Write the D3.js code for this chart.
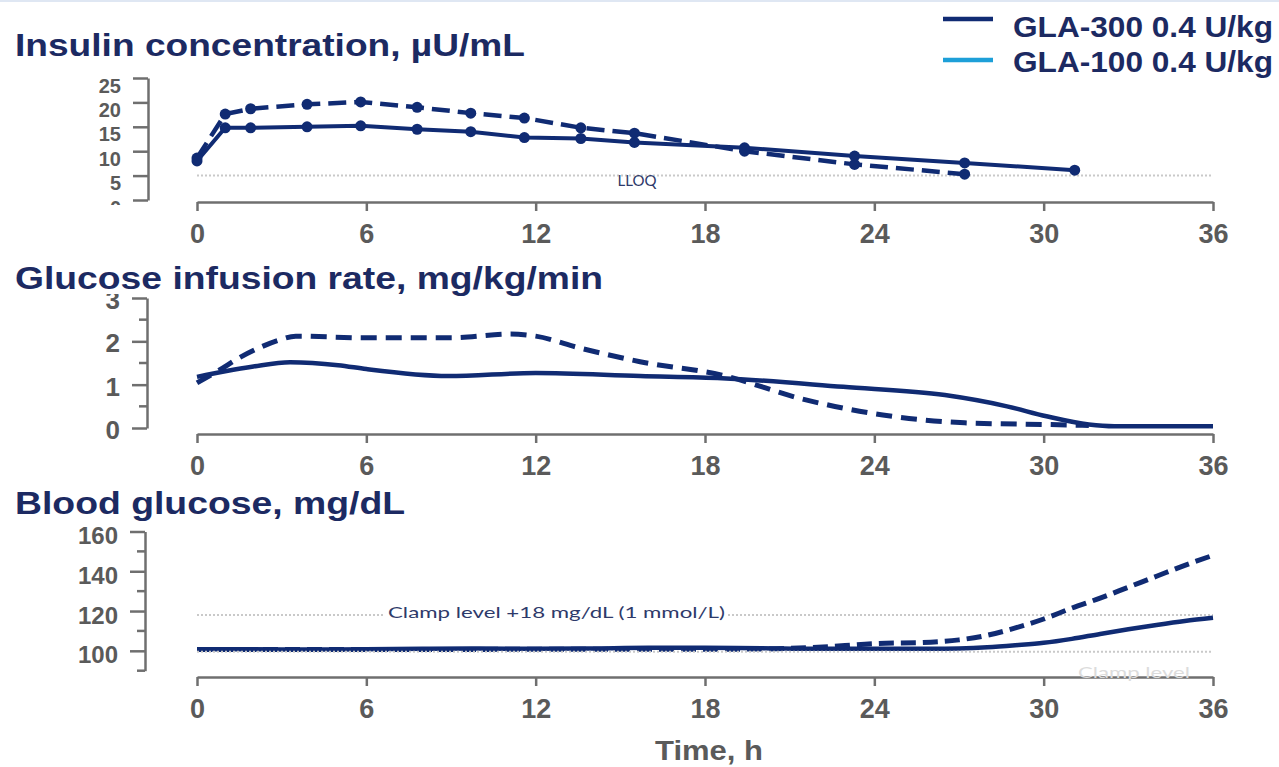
<!DOCTYPE html>
<html>
<head>
<meta charset="utf-8">
<script src="https://cdn.jsdelivr.net/npm/d3@7"></script>
<style>
  html, body { margin: 0; padding: 0; background: #ffffff; }
  svg { display: block; }
</style>
</head>
<body>
<svg id="chart" width="1279" height="767"></svg>
<script>
// ---- Data ----
const hourTicks = [0, 6, 12, 18, 24, 30, 36];

// Insulin concentration (µU/mL), sampled profile
const insulinTime300 = [0, 1, 1.9, 3.9, 5.8, 7.8, 9.7, 11.6, 13.6, 15.5, 19.4, 23.3, 27.2, 31.1];
const insulin300     = [8.0, 14.8, 14.8, 15.0, 15.2, 14.5, 14.0, 12.8, 12.6, 11.8, 10.7, 9.0, 7.6, 6.1];
const insulinTime100 = [0, 1, 1.9, 3.9, 5.8, 7.8, 9.7, 11.6, 13.6, 15.5, 19.4, 23.3, 27.2];
const insulin100     = [8.6, 17.6, 18.7, 19.6, 20.1, 19.0, 17.8, 16.8, 14.8, 13.7, 10.0, 7.3, 5.3];
const insulinTicks = [0, 5, 10, 15, 20, 25];
const lloq = 5;

// Glucose infusion rate (mg/kg/min), smoothed profile
const girTime300 = [0, 1, 2, 3.3, 5, 6, 8.9, 12, 15.7, 18.6, 22.9, 26.5, 28.7, 30.1, 31.6, 32.5, 34, 36];
const gir300     = [1.18, 1.31, 1.42, 1.52, 1.45, 1.36, 1.2, 1.27, 1.2, 1.15, 0.95, 0.76, 0.5, 0.27, 0.08, 0.04, 0.04, 0.04];
const girTime100 = [0, 0.8, 1.5, 2.2, 2.9, 3.5, 6, 9, 11.1, 12, 13.6, 15.7, 18.6, 21.5, 24.3, 27.2, 30.1, 31.6];
const gir100     = [1.04, 1.34, 1.62, 1.85, 2.03, 2.12, 2.08, 2.08, 2.17, 2.12, 1.84, 1.53, 1.22, 0.66, 0.3, 0.12, 0.08, 0.06];
const girTicks = [0, 1, 2, 3];
const girMinor = [0.5, 1.5, 2.5];

// Blood glucose (mg/dL)
const bgTime = [0, 2, 4, 6, 8, 10, 12, 14, 16, 18, 20, 22, 24, 26, 27, 28, 29, 30, 31, 32, 33, 34, 35, 36];
const bg300  = [100.8, 100.8, 100.6, 100.8, 101, 101.2, 101, 101.2, 101.5, 101.5, 101.3, 101, 101, 101, 101.2, 101.8, 102.8, 104, 106, 108.5, 110.8, 113, 115, 116.6];
const bg100  = [100.6, 100.6, 100.6, 100.6, 100.7, 100.7, 100.8, 100.8, 100.8, 100.8, 100.9, 101.8, 103.6, 104.3, 105.5, 107.8, 111.5, 116, 121.5, 126.5, 132, 137.5, 143, 148];
const bgTicks = [100, 120, 140, 160];
const bgMinor = [90, 110, 130, 150];
const clampLevel = 100;
const clampPlus = 118;

const seriesNames = ["GLA-300 0.4 U/kg", "GLA-100 0.4 U/kg"];

// ---- Styles ----
const NAVY = "#102b73";
const TITLE = "#1c2a62";
const GREY = "#5a5a5a";
const AXIS = "#6f6f6f";
const DOT = "#c9c9c9";
const intFmt = d3.format("d");

const svg = d3.select("#chart");
const x = d3.scaleLinear().domain([0, 36]).range([197, 1213]);

svg.append("rect").attr("x", 0).attr("y", 0).attr("width", 1279).attr("height", 2).attr("fill", "#dfe7f3");

// panel titles
function title(text, yBase, len) {
  svg.append("text")
    .attr("x", 15).attr("y", yBase)
    .attr("font-family", "Liberation Sans, Arial, sans-serif")
    .attr("font-weight", "bold").attr("font-size", 32)
    .attr("fill", TITLE)
    .attr("textLength", len).attr("lengthAdjust", "spacingAndGlyphs")
    .text(text);
}

function xAxis(yPos) {
  const g = svg.append("g").attr("transform", `translate(0,${yPos})`)
    .call(d3.axisBottom(x).tickValues(hourTicks).tickFormat(intFmt)
      .tickSize(9).tickSizeOuter(0).tickPadding(13));
  g.select(".domain").attr("stroke", AXIS).attr("stroke-width", 2.5);
  g.selectAll(".tick line").attr("stroke", AXIS).attr("stroke-width", 2.5);
  g.selectAll(".tick text")
    .attr("font-family", "Liberation Sans, Arial, sans-serif")
    .attr("font-weight", "bold").attr("font-size", 27)
    .attr("fill", GREY).attr("dy", "0.71em");
  return g;
}

// left axis; the optional clip is in the axis group's own coordinates (absolute y)
function yAxis(scale, xPos, ticks, minor, fontSize, dy, clip) {
  const g = svg.append("g").attr("transform", `translate(${xPos},0)`);
  const ax = g.append("g")
    .call(d3.axisLeft(scale).tickValues(ticks).tickFormat(intFmt)
      .tickSize(15).tickSizeOuter(0).tickPadding(12));
  ax.select(".domain").attr("stroke", AXIS).attr("stroke-width", 2.5);
  ax.selectAll(".tick line").attr("stroke", AXIS).attr("stroke-width", 2.5);
  ax.selectAll(".tick text")
    .attr("font-family", "Liberation Sans, Arial, sans-serif")
    .attr("font-weight", "bold").attr("font-size", fontSize)
    .attr("fill", GREY).attr("dy", dy);
  if (clip) {
    const id = "clip" + xPos + "_" + clip[0];
    svg.select("defs").append("clipPath").attr("id", id)
      .attr("clipPathUnits", "userSpaceOnUse")
      .append("rect").attr("x", -200).attr("y", clip[0]).attr("width", 260).attr("height", clip[1] - clip[0]);
    ax.attr("clip-path", `url(#${id})`);
  }
  if (minor) {
    g.selectAll(".minor").data(minor).join("line")
      .attr("x1", -8).attr("x2", 0)
      .attr("y1", d => scale(d)).attr("y2", d => scale(d))
      .attr("stroke", AXIS).attr("stroke-width", 2.5);
  }
  return g;
}

function dotted(yPos, segments) {
  segments.forEach(([a, b]) => {
    svg.append("line").attr("x1", a).attr("x2", b).attr("y1", yPos).attr("y2", yPos)
      .attr("stroke", DOT).attr("stroke-width", 2).attr("stroke-dasharray", "2,2");
  });
}

svg.append("defs");

// ===== Panel 1: insulin =====
const yIns = d3.scaleLinear().domain([0, 25]).range([200, 78]);
title("Insulin concentration, µU/mL", 56, 510);
yAxis(yIns, 148, insulinTicks, null, 20, "0.7em", [60, 205]);
xAxis(202);
dotted(yIns(lloq), [[x(0), x(36)]]);
svg.append("text").attr("x", 637).attr("y", 186).attr("text-anchor", "middle")
  .attr("font-family", "Lato, Open Sans, sans-serif").attr("font-size", 15)
  .attr("fill", "#2e3a6a").text("LLOQ");

const insLine = d3.line().x(d => x(d[0])).y(d => yIns(d[1]));
const ins300 = insulinTime300.map((t, i) => [t, insulin300[i]]);
const ins100 = insulinTime100.map((t, i) => [t, insulin100[i]]);
svg.append("path").datum(ins100).attr("d", insLine).attr("fill", "none")
  .attr("stroke", NAVY).attr("stroke-width", 4.5).attr("stroke-dasharray", "18,8");
svg.append("path").datum(ins300).attr("d", insLine).attr("fill", "none")
  .attr("stroke", NAVY).attr("stroke-width", 4);
svg.selectAll(".d100").data(ins100).join("circle")
  .attr("cx", d => x(d[0])).attr("cy", d => yIns(d[1])).attr("r", 5.5).attr("fill", NAVY);
svg.selectAll(".d300").data(ins300).join("circle")
  .attr("cx", d => x(d[0])).attr("cy", d => yIns(d[1])).attr("r", 5.5).attr("fill", NAVY);

// ===== Panel 2: glucose infusion rate =====
const yGir = d3.scaleLinear().domain([0, 3]).range([428, 298]);
yAxis(yGir, 147, girTicks, girMinor, 26, "0.4em", [294, 460]);
xAxis(434);
title("Glucose infusion rate, mg/kg/min", 289, 588);
const girLine = d3.line().curve(d3.curveMonotoneX).x(d => x(d[0])).y(d => yGir(d[1]));
svg.append("path").datum(girTime100.map((t, i) => [t, gir100[i]])).attr("d", girLine)
  .attr("fill", "none").attr("stroke", NAVY).attr("stroke-width", 5).attr("stroke-dasharray", "16,9");
svg.append("path").datum(girTime300.map((t, i) => [t, gir300[i]])).attr("d", girLine)
  .attr("fill", "none").attr("stroke", NAVY).attr("stroke-width", 4.5);

// ===== Panel 3: blood glucose =====
const yBg = d3.scaleLinear().domain([90, 160]).range([670.7, 531.5]);
title("Blood glucose, mg/dL", 514, 390);
yAxis(yBg, 145, bgTicks, bgMinor, 24, "0.5em");
xAxis(677);
dotted(yBg(clampPlus), [[x(0), 385], [728, x(36)]]);
svg.append("text").attr("x", 388).attr("y", 618)
  .attr("font-family", "Lato, Open Sans, sans-serif").attr("font-size", 16)
  .attr("fill", "#2e3a6a").attr("textLength", 337).attr("lengthAdjust", "spacingAndGlyphs")
  .text("Clamp level +18 mg/dL (1 mmol/L)");

const bgLine = d3.line().curve(d3.curveMonotoneX).x(d => x(d[0])).y(d => yBg(d[1]));
svg.append("path").datum(bgTime.map((t, i) => [t, bg300[i]])).attr("d", bgLine)
  .attr("fill", "none").attr("stroke", NAVY).attr("stroke-width", 4.5);
svg.append("path").datum(bgTime.map((t, i) => [t, bg100[i]])).attr("d", bgLine)
  .attr("fill", "none").attr("stroke", NAVY).attr("stroke-width", 5).attr("stroke-dasharray", "15,7");
dotted(yBg(clampLevel) + 1, [[x(0), x(36)]]);
svg.append("text").attr("x", 1078).attr("y", 678)
  .attr("font-family", "Lato, Open Sans, sans-serif").attr("font-size", 16)
  .attr("fill", "#dcdcdc").attr("textLength", 112).attr("lengthAdjust", "spacingAndGlyphs")
  .text("Clamp level");

svg.append("text").attr("x", 709).attr("y", 760).attr("text-anchor", "middle")
  .attr("font-family", "Liberation Sans, Arial, sans-serif").attr("font-weight", "bold")
  .attr("font-size", 27).attr("fill", GREY)
  .attr("textLength", 108).attr("lengthAdjust", "spacingAndGlyphs")
  .text("Time, h");

// ===== Legend =====
const legendColors = [NAVY, "#1d9fd8"];
const legend = svg.append("g");
seriesNames.forEach((name, i) => {
  const yL = 19 + i * 41;
  legend.append("line").attr("x1", 943).attr("x2", 993).attr("y1", yL).attr("y2", yL)
    .attr("stroke", legendColors[i]).attr("stroke-width", 4.5);
  legend.append("text").attr("x", 1013).attr("y", 37 + i * 35)
    .attr("font-family", "Liberation Sans, Arial, sans-serif").attr("font-weight", "bold")
    .attr("font-size", 29).attr("fill", TITLE)
    .attr("textLength", 260).attr("lengthAdjust", "spacingAndGlyphs")
    .text(name);
});
</script>
</body>
</html>
